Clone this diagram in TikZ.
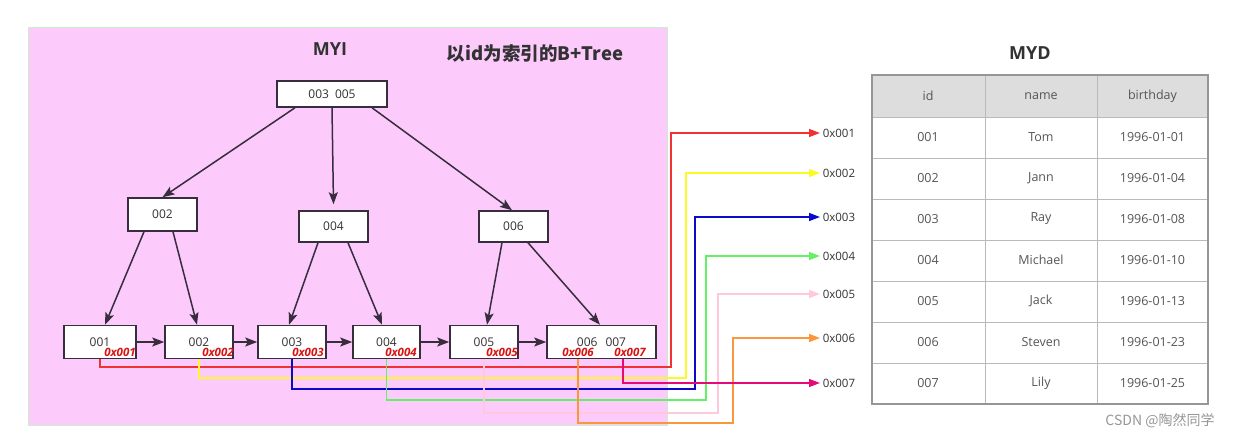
\documentclass[tikz,border=0pt]{standalone}
\usepackage{fontspec}
\setmainfont{Open Sans}
\newfontfamily\cjk{Noto Sans CJK SC}
\usetikzlibrary{arrows.meta}
\usepackage{xcolor}
\definecolor{myipink}{RGB}{252,203,252}
\definecolor{myiframe}{RGB}{200,240,200}
\definecolor{treeline}{RGB}{55,45,60}
\definecolor{treetext}{RGB}{50,50,50}
\definecolor{addrred}{RGB}{215,20,20}
\definecolor{linkred}{RGB}{240,50,50}
\definecolor{linkyellow}{RGB}{250,250,40}
\definecolor{linkblue}{RGB}{10,10,200}
\definecolor{linkgreen}{RGB}{100,240,100}
\definecolor{linkpink}{RGB}{255,200,220}
\definecolor{linkorange}{RGB}{250,150,60}
\definecolor{linkmagenta}{RGB}{230,10,120}
\definecolor{headgray}{RGB}{221,221,221}
\definecolor{gridgray}{RGB}{185,185,185}
\definecolor{framegray}{RGB}{150,150,150}
\definecolor{celltext}{RGB}{85,85,85}

\begin{document}
\begin{tikzpicture}[x=1pt, y=-1pt, line width=1.5pt,
    keybox/.style={draw=treeline, fill=white, inner sep=0pt, text=treetext, font=\fontsize{12}{14}\selectfont},
    edge/.style={draw=treeline, -{Stealth[length=12pt,width=9pt,inset=2.5pt]}},
    addr/.style={text=addrred, inner sep=0pt, font=\fontsize{11.5}{13}\selectfont\bfseries\itshape},
    link/.style={line width=1.5pt, -{Triangle[length=11pt,width=8pt]}},
    target/.style={anchor=west, inner sep=2pt, text=treetext, font=\fontsize{11.5}{13}\selectfont},
    cell/.style={text=celltext, font=\fontsize{12.5}{14}\selectfont}]
    \useasboundingbox (0,0) rectangle (1243,440);

    % MYI area
    \draw[myiframe, fill=myipink, line width=1pt] (28,27) rectangle (667,425);
    \node[font=\fontsize{18}{20}\selectfont\bfseries, text=treetext] (myi) at (330,49) {MYI};
    \node[font=\fontsize{18.5}{20}\selectfont\cjk\bfseries, text=treetext] (treetitle) at (535,53) {以id为索引的B+Tree};

    % B+Tree nodes
    \node[keybox, minimum width=110pt, minimum height=26pt] (root) at (332,94) {003\enspace005};
    \node[keybox, minimum width=69pt, minimum height=33pt] (b2) at (162.5,214.5) {002};
    \node[keybox, minimum width=69pt, minimum height=31pt] (b4) at (333.5,226.5) {004};
    \node[keybox, minimum width=69pt, minimum height=31pt] (b6) at (513.5,226.5) {006};

    \node[keybox, minimum width=72pt, minimum height=33pt] (l1) at (100,342) {001};
    \node[keybox, minimum width=68pt, minimum height=33pt] (l2) at (199,342) {002};
    \node[keybox, minimum width=68pt, minimum height=33pt] (l3) at (292,342) {003};
    \node[keybox, minimum width=67pt, minimum height=33pt] (l4) at (386.5,342) {004};
    \node[keybox, minimum width=68pt, minimum height=33pt] (l5) at (484,342) {005};
    \node[keybox, minimum width=109pt, minimum height=33pt] (l6) at (601.5,342) {006\enspace\,007};

    % tree edges
    \draw[edge] ([xshift=-37pt]root.south) -- (b2.north);
    \draw[edge] (root.south) -- ([yshift=6pt]b4.north);
    \draw[edge] ([xshift=40pt]root.south) -- ([xshift=-1.5pt]b6.north);
    \draw[edge] ([xshift=-18.5pt]b2.south) -- ([xshift=5pt]l1.north);
    \draw[edge] ([xshift=10.5pt]b2.south) -- ([xshift=-2pt]l2.north);
    \draw[edge] ([xshift=-15.5pt]b4.south) -- ([xshift=-3pt]l3.north);
    \draw[edge] ([xshift=14.5pt]b4.south) -- ([xshift=-4.5pt]l4.north);
    \draw[edge] ([xshift=-11.5pt]b6.south) -- ([xshift=3pt]l5.north);
    \draw[edge] ([xshift=14.5pt]b6.south) -- ([xshift=-1.5pt]l6.north);

    % leaf chain
    \draw[edge] (l1.east) -- (l2.west);
    \draw[edge] (l2.east) -- (l3.west);
    \draw[edge] (l3.east) -- (l4.west);
    \draw[edge] (l4.east) -- (l5.west);
    \draw[edge] (l5.east) -- (l6.west);

    % row addresses
    \node[target] (p1) at (820,133) {0x001};
    \node[target] (p2) at (820,173) {0x002};
    \node[target] (p3) at (820,217) {0x003};
    \node[target] (p4) at (820,256) {0x004};
    \node[target] (p5) at (820,294) {0x005};
    \node[target] (p6) at (820,338) {0x006};
    \node[target] (p7) at (820,383) {0x007};

    % pointers from leaves to rows
    \draw[link, linkred] (l1.south) |- (671,367) |- (p1.west);
    \draw[link, linkyellow] (l2.south) |- (686,378) |- (p2.west);
    \draw[link, linkblue] (l3.south) |- (695,389) |- (p3.west);
    \draw[link, linkgreen] (l4.south) |- (706,400) |- (p4.west);
    \draw[link, linkpink] (l5.south) |- (718,413) |- (p5.west);
    \draw[link, linkorange] ([xshift=-23.5pt]l6.south) |- (733,423) |- (p6.west);
    \draw[link, linkmagenta] ([xshift=21.5pt]l6.south) |- (p7.west);

    % leaf addresses
    \node[addr] (a1) at (120,352) {0x001};
    \node[addr] (a2) at (218,352) {0x002};
    \node[addr] (a3) at (308,352) {0x003};
    \node[addr] (a4) at (401,352) {0x004};
    \node[addr] (a5) at (502,352) {0x005};
    \node[addr] (a6) at (578,352) {0x006};
    \node[addr] (a7) at (630,352) {0x007};

    % MYD table
    \node[font=\fontsize{18}{20}\selectfont\bfseries, text=treetext] (myd) at (1030,53) {MYD};
    \fill[headgray] (872,75) rectangle (1208,117);
    \foreach \y in {117,158,199,240,281,322,363}
        \draw[gridgray, line width=1pt] (872,\y) -- (1208,\y);
    \draw[gridgray, line width=1pt] (985,75) -- (985,404) (1097,75) -- (1097,404);
    \draw[framegray, line width=2pt] (872,75) rectangle (1208,404);
    \node[cell] (hid) at (928,96) {id};
    \node[cell] (hname) at (1041,96) {name};
    \node[cell] (hbday) at (1152.5,96) {birthday};
    \foreach \id/\nm/\bd [count=\r] in {001/Tom/1996-01-01, 002/Jann/1996-01-04,
        003/Ray/1996-01-08, 004/Michael/1996-01-10, 005/Jack/1996-01-13,
        006/Steven/1996-01-23, 007/Lily/1996-01-25} {
        \node[cell] (id\r) at (928,{96+41*\r}) {\id};
        \node[cell] (name\r) at (1041,{96+41*\r}) {\nm};
        \node[cell] (bday\r) at (1152.5,{96+41*\r}) {\bd};
    }

    \node[text=framegray, font=\fontsize{14}{16}\selectfont\cjk] (mark) at (1160,421) {CSDN @陶然同学};
\end{tikzpicture}
\end{document}
